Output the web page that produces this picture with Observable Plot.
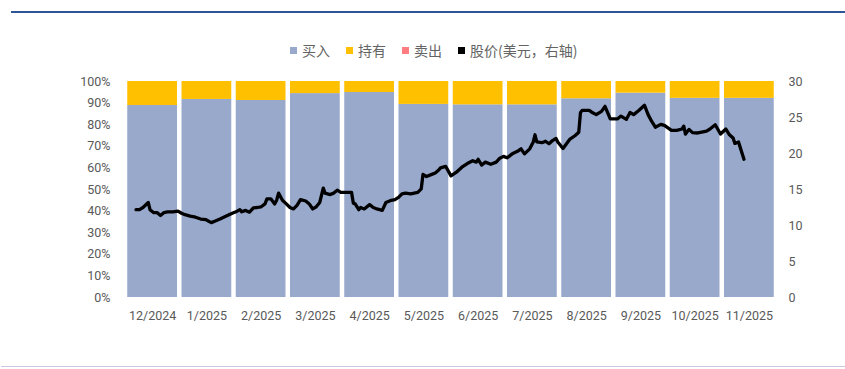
<!DOCTYPE html>
<html><head><meta charset="utf-8">
<script src="https://cdn.jsdelivr.net/npm/d3@7"></script>
<script src="https://cdn.jsdelivr.net/npm/@observablehq/plot@0.6"></script>
<style>
body{margin:0;background:#fff;}
#wrap{position:relative;width:845px;height:369px;overflow:hidden;font-family:Roboto,sans-serif;}
.rule-top{position:absolute;left:11px;right:0;top:11px;height:2px;background:#2F5597;}
.rule-bot{position:absolute;left:1px;right:0;top:366px;height:1px;background:#CCC6E4;}
#legend{position:absolute;left:290px;top:40px;display:flex;align-items:center;font-family:"Noto Sans CJK SC",sans-serif;font-size:14px;line-height:20px;color:#636363;white-space:nowrap;}
.item{display:flex;align-items:center;margin-right:16px}
.sw{width:7px;height:7px;margin-right:5px}
#chart{position:absolute;left:0;top:0}
</style></head>
<body><div id="wrap"><div class="rule-top"></div><div class="rule-bot"></div><div id="chart"></div><div id="legend"></div></div>
<script>
const months = ["12/2024","1/2025","2/2025","3/2025","4/2025","5/2025","6/2025","7/2025","8/2025","9/2025","10/2025","11/2025"];
const buyPct  = [88.9, 91.7, 91.2, 94.4, 94.9, 89.4, 89.2, 89.2, 92.0, 94.6, 92.2, 92.2];
const sellPct = [0, 0, 0, 0, 0, 0, 0, 0, 0, 0, 0, 0];
const holdPct = [11.1, 8.3, 8.8, 5.6, 5.1, 10.6, 10.8, 10.8, 8.0, 5.4, 7.8, 7.8];

const seriesNames  = ["买入", "持有", "卖出", "股价(美元，右轴)"];
const seriesColors = ["#99A9CC", "#FFC000", "#FF7C80", "#000000"];

const priceDates = [
"2024-12-07","2024-12-09","2024-12-11","2024-12-14","2024-12-15","2024-12-17","2024-12-19","2024-12-21","2024-12-23","2024-12-25","2024-12-28","2024-12-31",
"2025-01-02","2025-01-04","2025-01-07","2025-01-10","2025-01-13","2025-01-16","2025-01-19","2025-01-21","2025-01-24","2025-01-27","2025-01-31",
"2025-02-02","2025-02-04","2025-02-05","2025-02-07","2025-02-09","2025-02-11","2025-02-13","2025-02-15","2025-02-17","2025-02-18","2025-02-20","2025-02-22","2025-02-23","2025-02-24","2025-02-26","2025-02-28",
"2025-03-02","2025-03-04","2025-03-06","2025-03-08","2025-03-11","2025-03-13","2025-03-15","2025-03-17","2025-03-19","2025-03-21","2025-03-22","2025-03-25","2025-03-27","2025-03-29","2025-03-31",
"2025-04-04","2025-04-06","2025-04-07","2025-04-08","2025-04-10","2025-04-11","2025-04-13","2025-04-16","2025-04-18","2025-04-20","2025-04-23","2025-04-25","2025-04-28","2025-04-30",
"2025-05-02","2025-05-04","2025-05-06","2025-05-09","2025-05-13","2025-05-15","2025-05-16","2025-05-18","2025-05-21","2025-05-23","2025-05-25","2025-05-26","2025-05-29",
"2025-06-01","2025-06-04","2025-06-07","2025-06-10","2025-06-13","2025-06-15","2025-06-16","2025-06-18","2025-06-20","2025-06-23","2025-06-26","2025-06-28","2025-06-30",
"2025-07-02","2025-07-05","2025-07-08","2025-07-10","2025-07-12","2025-07-15","2025-07-17","2025-07-18","2025-07-19","2025-07-22","2025-07-24","2025-07-26","2025-07-28","2025-07-30","2025-07-31",
"2025-08-03","2025-08-05","2025-08-07","2025-08-10","2025-08-12","2025-08-13","2025-08-14","2025-08-18","2025-08-20","2025-08-22","2025-08-25","2025-08-27","2025-08-30",
"2025-09-03","2025-09-05","2025-09-08","2025-09-10","2025-09-12","2025-09-15","2025-09-18","2025-09-20","2025-09-22","2025-09-24","2025-09-27","2025-09-29",
"2025-10-03","2025-10-06","2025-10-09","2025-10-10","2025-10-11","2025-10-13","2025-10-15","2025-10-18","2025-10-21","2025-10-23","2025-10-25","2025-10-28","2025-10-31",
"2025-11-03","2025-11-05","2025-11-07","2025-11-08","2025-11-10","2025-11-13"
];
const priceValues = [
12.2,12.2,12.5,13.2,12.2,11.8,11.8,11.4,11.8,11.9,11.9,12.0,
11.7,11.5,11.3,11.15,10.9,10.8,10.4,10.6,10.9,11.25,11.7,
11.9,12.2,11.9,12.1,11.85,12.45,12.5,12.6,13.0,13.7,13.7,13.0,13.5,14.5,13.5,13.0,
12.5,12.3,12.8,13.6,13.4,13.0,12.3,12.6,13.2,15.2,14.5,14.3,14.5,14.9,14.6,
14.6,14.6,13.1,13.0,12.2,12.5,12.3,12.9,12.5,12.3,12.1,13.2,13.5,13.6,
13.9,14.4,14.5,14.4,14.6,15.1,17.1,16.8,17.1,17.3,17.7,18.0,18.2,
16.9,17.4,18.1,18.6,19.0,18.8,19.2,18.4,18.8,18.5,18.8,19.35,19.6,
19.4,19.95,20.3,20.65,19.95,20.65,21.6,22.6,21.6,21.5,21.7,21.35,21.8,22.1,21.6,
20.7,21.35,22.0,22.5,22.95,25.7,26.0,26.0,25.65,25.4,25.85,26.55,24.8,
24.8,25.2,24.75,25.7,25.4,26.0,26.7,25.4,24.45,23.65,24.05,23.9,
23.2,23.2,23.4,23.8,22.7,23.35,22.9,22.85,23.0,23.1,23.4,24.0,22.7,
23.4,22.6,22.15,21.4,21.6,19.2
];
const leftTicks = [0,10,20,30,40,50,60,70,80,90,100];
const rightTicks = [0,5,10,15,20,25,30];
const rightMax = 30;

// month slot index (0 = Dec 2024) with position inside the month
function slot(s) {
  const d = new Date(s + "T00:00:00Z");
  const idx = (d.getUTCFullYear() - 2024) * 12 + d.getUTCMonth() - 11;
  const dim = new Date(Date.UTC(d.getUTCFullYear(), d.getUTCMonth() + 1, 0)).getUTCDate();
  return idx + (d.getUTCDate() - 1) / dim;
}

const bars = months.map((m, i) => ({i, m, buy: buyPct[i], sell: sellPct[i], hold: holdPct[i]}));
const prices = priceDates.map((s, i) => ({t: slot(s), price: priceValues[i]}));
const toLeft = v => v / rightMax * 100;

const inset = {insetLeft: 2.25, insetRight: 2.25};
const chart = Plot.plot({
  width: 845, height: 369,
  marginTop: 81, marginBottom: 72, marginLeft: 125, marginRight: 69,
  style: {fontFamily: "Roboto, sans-serif", fontSize: "12.5px", color: "#595959", background: "transparent", overflow: "visible"},
  x: {domain: [0, months.length]},
  y: {domain: [0, 100]},
  marks: [
    Plot.rect(bars, {x1: d => d.i, x2: d => d.i + 1, y1: 0, y2: "buy", fill: seriesColors[0], ...inset}),
    Plot.rect(bars, {x1: d => d.i, x2: d => d.i + 1, y1: "buy", y2: d => d.buy + d.sell, fill: seriesColors[2], ...inset}),
    Plot.rect(bars, {x1: d => d.i, x2: d => d.i + 1, y1: d => d.buy + d.sell, y2: d => d.buy + d.sell + d.hold, fill: seriesColors[1], ...inset}),
    Plot.line(prices, {x: "t", y: d => toLeft(d.price), stroke: seriesColors[3], strokeWidth: 3.3, strokeLinejoin: "round", strokeLinecap: "round"}),
    Plot.axisY({ticks: leftTicks, tickFormat: d => d + "%", tickSize: 0, tickPadding: 15, label: null, fontSize: 12.5}),
    Plot.axisY({anchor: "right", ticks: rightTicks.map(toLeft), tickFormat: d => String(Math.round(d / 100 * rightMax)), tickSize: 0, tickPadding: 12, label: null, fontSize: 12.5}),
    Plot.axisX({ticks: months.map((m, i) => i + 0.5), tickFormat: d => months[Math.floor(d)], tickSize: 0, tickPadding: 14, label: null, fontSize: 12.5})
  ]
});
document.getElementById("chart").appendChild(chart);

const leg = document.getElementById("legend");
seriesNames.forEach((n, i) => {
  const it = document.createElement("div");
  it.className = "item";
  const sw = document.createElement("span");
  sw.className = "sw";
  sw.style.background = seriesColors[i];
  const tx = document.createElement("span");
  tx.textContent = n;
  it.appendChild(sw); it.appendChild(tx);
  leg.appendChild(it);
});
</script>
</body></html>
